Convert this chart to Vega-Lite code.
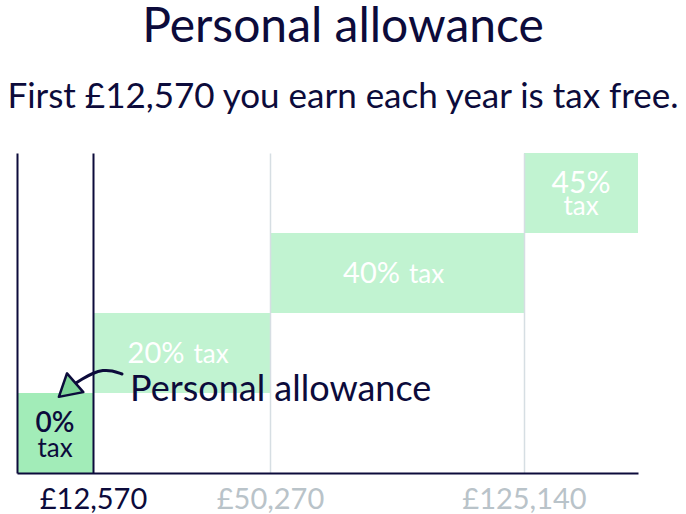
{
  "$schema": "https://vega.github.io/schema/vega-lite/v6.json",
  "width": 621,
  "height": 320,
  "autosize": {"type": "none"},
  "padding": {"left": 17, "top": 153, "right": 48, "bottom": 41},
  "background": "white",
  "config": {"view": {"stroke": null}, "font": "Lato"},
  "title": {
    "text": "Personal allowance",
    "subtitle": "First £12,570 you earn each year is tax free.",
    "anchor": "middle",
    "dx": 15.5,
    "font": "Lato",
    "fontSize": 48,
    "fontWeight": "normal",
    "color": "#0c0b3b",
    "subtitleFont": "Lato",
    "subtitleFontSize": 35,
    "subtitleColor": "#0c0b3b",
    "subtitlePadding": 28,
    "offset": 38
  },
  "datasets": {
    "bands": [
      {"rate": "0%", "start": 0, "end": 12570, "bottom": 0, "top": 1},
      {"rate": "20%", "start": 12570, "end": 50270, "bottom": 1, "top": 2},
      {"rate": "40%", "start": 50270, "end": 125140, "bottom": 2, "top": 3},
      {"rate": "45%", "start": 125140, "end": 150000, "bottom": 3, "top": 4}
    ],
    "arrow": [
      {"order": 1, "income": 18747, "level": 1.2375},
      {"order": 2, "income": 16617, "level": 1.28},
      {"order": 3, "income": 14700, "level": 1.2875},
      {"order": 4, "income": 12570, "level": 1.25},
      {"order": 5, "income": 10751, "level": 1.175},
      {"order": 6, "income": 9262, "level": 1.1}
    ],
    "head": [{"income": 8270, "level": 1.04}],
    "note": [{"income": 20451, "level": 0.9, "label": "Personal allowance"}]
  },
  "layer": [
    {
      "data": {"name": "bands"},
      "mark": {"type": "rect"},
      "encoding": {
        "x": {
          "field": "start",
          "type": "quantitative",
          "scale": {"domain": [0, 12570, 50270, 125140, 150000], "range": [0, 76, 253, 507, 621], "nice": false, "zero": false},
          "axis": {
            "values": [12570, 50270, 125140],
            "labelExpr": "'£' + format(datum.value, ',')",
            "title": null,
            "ticks": false,
            "grid": true,
            "gridColor": {"condition": {"test": "datum.value == 12570", "value": "#0c0b3b"}, "value": "#d6dee3"},
            "gridWidth": {"condition": {"test": "datum.value == 12570", "value": 2}, "value": 1.5},
            "domainColor": "#0c0b3b",
            "domainWidth": 2,
            "labelFont": "Lato",
            "labelFontSize": 29,
            "labelPadding": 12,
            "labelColor": {"condition": {"test": "datum.value == 12570", "value": "#0c0b3b"}, "value": "#b9c3c9"},
            "labelFlush": false,
            "labelOverlap": false,
            "zindex": 1
          }
        },
        "x2": {"field": "end"},
        "y": {
          "field": "bottom",
          "type": "quantitative",
          "scale": {"domain": [0, 4], "nice": false},
          "axis": {"title": null, "labels": false, "ticks": false, "grid": false, "domainColor": "#0c0b3b", "domainWidth": 2, "zindex": 1}
        },
        "y2": {"field": "top"},
        "color": {
          "field": "rate",
          "type": "nominal",
          "scale": {"domain": ["0%", "20%", "40%", "45%"], "range": ["#a2ecb8", "#c1f3d1", "#c1f3d1", "#c1f3d1"]},
          "legend": null
        }
      }
    },
    {
      "data": {"name": "bands"},
      "transform": [
        {"filter": "datum.rate == '20%' || datum.rate == '40%'"},
        {"calculate": "(datum.start + datum.end) / 2", "as": "mid"},
        {"calculate": "(datum.bottom + datum.top) / 2", "as": "ymid"}
      ],
      "mark": {"type": "text", "align": "right", "baseline": "alphabetic", "dx": 3, "dy": 10, "fontSize": 29, "color": "white", "font": "Lato"},
      "encoding": {
        "x": {"field": "mid", "type": "quantitative"},
        "y": {"field": "ymid", "type": "quantitative"},
        "text": {"field": "rate"}
      }
    },
    {
      "data": {"name": "bands"},
      "transform": [
        {"filter": "datum.rate == '20%' || datum.rate == '40%'"},
        {"calculate": "(datum.start + datum.end) / 2", "as": "mid"},
        {"calculate": "(datum.bottom + datum.top) / 2", "as": "ymid"}
      ],
      "mark": {"type": "text", "align": "left", "baseline": "alphabetic", "dx": 12, "dy": 10, "fontSize": 26, "color": "white", "font": "Lato"},
      "encoding": {
        "x": {"field": "mid", "type": "quantitative"},
        "y": {"field": "ymid", "type": "quantitative"},
        "text": {"value": "tax"}
      }
    },
    {
      "data": {"name": "bands"},
      "transform": [
        {"filter": "datum.rate == '45%'"},
        {"calculate": "(datum.start + datum.end) / 2", "as": "mid"},
        {"calculate": "(datum.bottom + datum.top) / 2", "as": "ymid"}
      ],
      "mark": {"type": "text", "align": "center", "baseline": "alphabetic", "dy": 0, "fontSize": 30, "color": "white", "font": "Lato"},
      "encoding": {
        "x": {"field": "mid", "type": "quantitative"},
        "y": {"field": "ymid", "type": "quantitative"},
        "text": {"field": "rate"}
      }
    },
    {
      "data": {"name": "bands"},
      "transform": [
        {"filter": "datum.rate == '45%'"},
        {"calculate": "(datum.start + datum.end) / 2", "as": "mid"},
        {"calculate": "(datum.bottom + datum.top) / 2", "as": "ymid"}
      ],
      "mark": {"type": "text", "align": "center", "baseline": "alphabetic", "dy": 22, "fontSize": 26, "color": "white", "font": "Lato"},
      "encoding": {
        "x": {"field": "mid", "type": "quantitative"},
        "y": {"field": "ymid", "type": "quantitative"},
        "text": {"value": "tax"}
      }
    },
    {
      "data": {"name": "bands"},
      "transform": [
        {"filter": "datum.rate == '0%'"},
        {"calculate": "(datum.start + datum.end) / 2", "as": "mid"},
        {"calculate": "(datum.bottom + datum.top) / 2", "as": "ymid"}
      ],
      "mark": {"type": "text", "align": "center", "baseline": "alphabetic", "dy": -1, "fontSize": 28, "color": "#0c0b3b", "font": "Lato", "fontWeight": 600},
      "encoding": {
        "x": {"field": "mid", "type": "quantitative"},
        "y": {"field": "ymid", "type": "quantitative"},
        "text": {"field": "rate"}
      }
    },
    {
      "data": {"name": "bands"},
      "transform": [
        {"filter": "datum.rate == '0%'"},
        {"calculate": "(datum.start + datum.end) / 2", "as": "mid"},
        {"calculate": "(datum.bottom + datum.top) / 2", "as": "ymid"}
      ],
      "mark": {"type": "text", "align": "center", "baseline": "alphabetic", "dy": 24, "fontSize": 26, "color": "#0c0b3b", "font": "Lato"},
      "encoding": {
        "x": {"field": "mid", "type": "quantitative"},
        "y": {"field": "ymid", "type": "quantitative"},
        "text": {"value": "tax"}
      }
    },
    {
      "data": {"name": "arrow"},
      "mark": {"type": "line", "interpolate": "basis", "color": "#0c0b3b", "strokeWidth": 3, "strokeCap": "round"},
      "encoding": {
        "x": {"field": "income", "type": "quantitative"},
        "y": {"field": "level", "type": "quantitative"},
        "order": {"field": "order", "type": "quantitative"}
      }
    },
    {
      "data": {"name": "head"},
      "mark": {"type": "point", "shape": "triangle-up", "size": 620, "angle": 229, "filled": true, "fill": "#7fd69a", "stroke": "#0c0b3b", "strokeWidth": 2.5, "opacity": 1, "strokeJoin": "round"},
      "encoding": {
        "x": {"field": "income", "type": "quantitative"},
        "y": {"field": "level", "type": "quantitative"}
      }
    },
    {
      "data": {"name": "note"},
      "mark": {"type": "text", "align": "left", "baseline": "alphabetic", "fontSize": 36, "color": "#0c0b3b", "font": "Lato"},
      "encoding": {
        "x": {"field": "income", "type": "quantitative"},
        "y": {"field": "level", "type": "quantitative"},
        "text": {"field": "label"}
      }
    }
  ]
}
